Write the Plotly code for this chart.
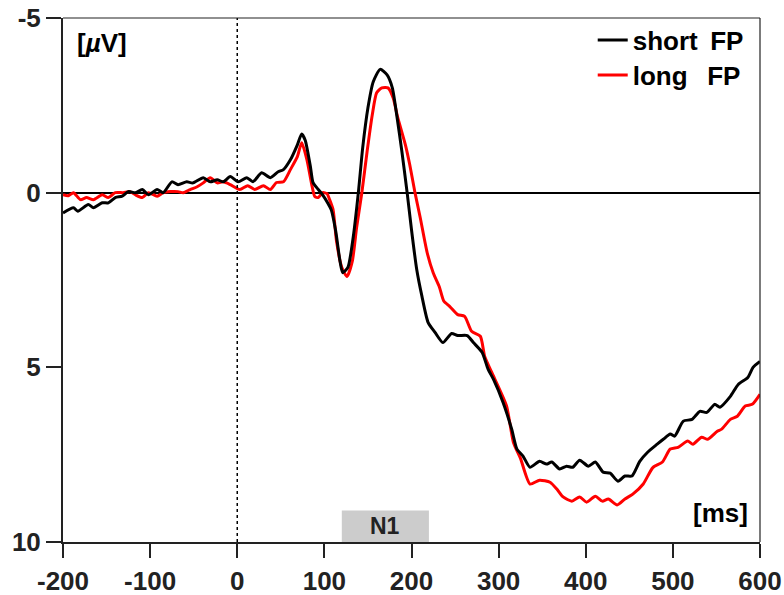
import plotly.graph_objects as go

# ERP grand average, short vs long foreperiod (time in ms, amplitude in µV)
t_short = [-200, -188, -183, -171, -165, -155, -148, -140, -132, -125,
           -117, -109, -102, -92, -85, -75, -68, -58, -51, -39,
           -31, -23, -16, -8, 1, 11, 18, 28, 38, 47,
           53, 61, 69, 74, 78, 84, 87, 93, 98, 104,
           108, 113, 118, 121, 127, 133, 139, 144, 150, 156,
           164, 172, 178, 183, 189, 195, 200, 206, 212, 219,
           227, 236, 246, 253, 264, 271, 281, 288, 294, 305,
           315, 321, 328, 336, 347, 355, 361, 370, 378, 385,
           393, 403, 411, 420, 428, 437, 445, 453, 462, 471,
           482, 489, 497, 502, 512, 522, 531, 539, 548, 554,
           566, 575, 586, 592, 600]
v_short = [0.58, 0.43, 0.53, 0.34, 0.43, 0.29, 0.29, 0.14, 0.10, -0.03,
           0.00, -0.09, 0.06, -0.09, 0.00, -0.31, -0.23, -0.31, -0.28, -0.43,
           -0.31, -0.37, -0.31, -0.46, -0.31, -0.43, -0.31, -0.57, -0.43, -0.60,
           -0.66, -0.94, -1.37, -1.68, -1.50, -0.74, -0.29, -0.09, 0.06, 0.30,
           0.50, 1.10, 1.97, 2.29, 2.14, 1.29, 0.00, -1.29, -2.43, -3.17,
           -3.53, -3.37, -3.00, -2.23, -1.17, 0.00, 1.06, 2.20, 2.97, 3.71,
           4.00, 4.29, 4.03, 4.09, 4.09, 4.29, 4.57, 5.06, 5.34, 6.00,
           6.77, 7.34, 7.54, 7.86, 7.69, 7.77, 7.71, 7.91, 7.83, 7.86,
           7.66, 7.83, 7.71, 8.00, 8.03, 8.26, 8.11, 8.11, 7.69, 7.43,
           7.20, 7.06, 6.91, 6.97, 6.54, 6.49, 6.26, 6.29, 6.06, 6.14,
           5.83, 5.49, 5.29, 5.00, 4.83]

t_long = [-200, -194, -188, -180, -173, -165, -155, -148, -140, -131,
          -123, -117, -109, -102, -92, -85, -77, -68, -62, -54,
          -46, -39, -31, -23, -16, -8, 3, 12, 20, 30,
          38, 45, 53, 61, 69, 74, 80, 86, 89, 93,
          98, 103, 106, 110, 114, 120, 126, 132, 137, 143,
          149, 155, 160, 166, 173, 179, 184, 193, 198, 204,
          210, 218, 225, 232, 237, 244, 253, 261, 269, 279,
          284, 292, 309, 317, 325, 336, 347, 359, 367,
          374, 384, 393, 401, 411, 419, 426, 436, 445, 454,
          466, 477, 488, 497, 506, 517, 523, 533, 540, 551,
          556, 566, 574, 583, 591, 600]
v_long = [0.06, 0.09, 0.00, 0.20, 0.14, 0.20, 0.06, 0.14, 0.00, 0.00,
          -0.03, 0.06, 0.14, 0.00, 0.10, 0.00, -0.03, -0.03, 0.00, -0.09,
          -0.17, -0.28, -0.43, -0.28, -0.31, -0.23, -0.09, -0.20, -0.09, -0.20,
          -0.09, -0.29, -0.31, -0.66, -1.03, -1.43, -0.94, -0.17, 0.11, 0.14,
          0.00, 0.03, 0.20, 0.49, 1.40, 2.14, 2.40, 1.97, 1.00, 0.00,
          -1.17, -2.23, -2.86, -3.00, -3.00, -2.71, -2.17, -1.37, -0.80, 0.00,
          0.71, 1.72, 2.30, 2.70, 3.10, 3.26, 3.49, 3.54, 3.97, 4.11,
          4.69, 5.14, 6.10, 7.15, 7.60, 8.34, 8.23, 8.29, 8.49,
          8.71, 8.83, 8.71, 8.86, 8.69, 8.83, 8.77, 8.94, 8.77, 8.63,
          8.34, 7.87, 7.71, 7.34, 7.29, 7.11, 7.20, 7.00, 7.06, 6.83,
          6.77, 6.49, 6.40, 6.11, 6.06, 5.77]

x_ticks = [-200, -100, 0, 100, 200, 300, 400, 500, 600]
x_tick_labels = ["-200", "-100", "0", "100", "200", "300", "400", "500", "600"]
y_ticks = [-5, 0, 5, 10]
y_tick_labels = ["-5", "0", "5", "10"]

# N1 analysis window
n1_window = [120, 220]
n1_band = [9.1, 10]

FONT = "Arial, Liberation Sans, sans-serif"
INK = "#222222"

fig = go.Figure()
fig.add_trace(go.Scatter(x=t_long, y=v_long, mode="lines",
                         name="long\u00a0\u00a0\u2009FP",
                         line=dict(color="#ff0000", width=3, shape="spline", smoothing=0.6),
                         legend="legend2"))
fig.add_trace(go.Scatter(x=t_short, y=v_short, mode="lines",
                         name="short\u00a0\u2009FP",
                         line=dict(color="#000000", width=3, shape="spline", smoothing=0.6),
                         legend="legend"))

legend_style = dict(font=dict(family=FONT, size=26, color="#000000", weight="bold"),
                    bgcolor="rgba(0,0,0,0)", borderwidth=0, xanchor="left",
                    yanchor="middle", itemwidth=30)

fig.update_layout(
    width=784, height=595,
    margin=dict(l=63, r=24, t=18, b=53, autoexpand=False),
    paper_bgcolor="white", plot_bgcolor="white",
    showlegend=True,
    legend=dict(x=0.760, y=0.958, **legend_style),
    legend2=dict(x=0.760, y=0.891, **legend_style),
    xaxis=dict(range=[-200, 600], tickvals=x_ticks, ticktext=x_tick_labels,
               ticks="outside", ticklen=14, automargin=False,
               tickwidth=2, tickcolor=INK, showline=True, linewidth=2, linecolor=INK,
               showgrid=False, zeroline=False, ticklabelstandoff=1,
               tickfont=dict(family=FONT, size=26, color=INK, weight="bold")),
    yaxis=dict(range=[10, -5], tickvals=y_ticks, ticktext=y_tick_labels,
               ticks="outside", ticklen=15, automargin=False,
               tickwidth=2, tickcolor=INK, showline=True, linewidth=2, linecolor=INK,
               showgrid=False, zeroline=True, zerolinecolor="#000000", zerolinewidth=1.5,
               ticklabelstandoff=0,
               tickfont=dict(family=FONT, size=26, color=INK, weight="bold")),
    shapes=[
        dict(type="rect", xref="x", yref="y", x0=n1_window[0], x1=n1_window[1],
             y0=n1_band[0], y1=n1_band[1], fillcolor="#cccccc", line=dict(width=0),
             layer="below"),
        dict(type="line", xref="x", yref="paper", x0=0, x1=0, y0=0, y1=1,
             line=dict(color="#000000", width=1.5, dash="dot")),
        dict(type="line", xref="paper", yref="paper", x0=0, x1=1, y0=1, y1=1,
             line=dict(color=INK, width=1.2)),
        dict(type="line", xref="paper", yref="paper", x0=1, x1=1, y0=0, y1=1,
             line=dict(color=INK, width=1.2)),
    ],
    annotations=[
        dict(text="N1", x=sum(n1_window) / 2, y=sum(n1_band) / 2, xref="x", yref="y",
             xanchor="center", yanchor="middle",
             showarrow=False, font=dict(family=FONT, size=23, color=INK, weight="bold")),
        dict(text="[<i>µ</i>V]", x=0.056, y=0.952, xref="paper", yref="paper",
             xanchor="center", yanchor="middle",
             showarrow=False, font=dict(family=FONT, size=26, color="#000000", weight="bold")),
        dict(text="[ms]", x=0.943, y=0.055, xref="paper", yref="paper",
             xanchor="center", yanchor="middle",
             showarrow=False, font=dict(family=FONT, size=26, color="#000000", weight="bold")),
    ],
)

fig.write_html("out.html")
